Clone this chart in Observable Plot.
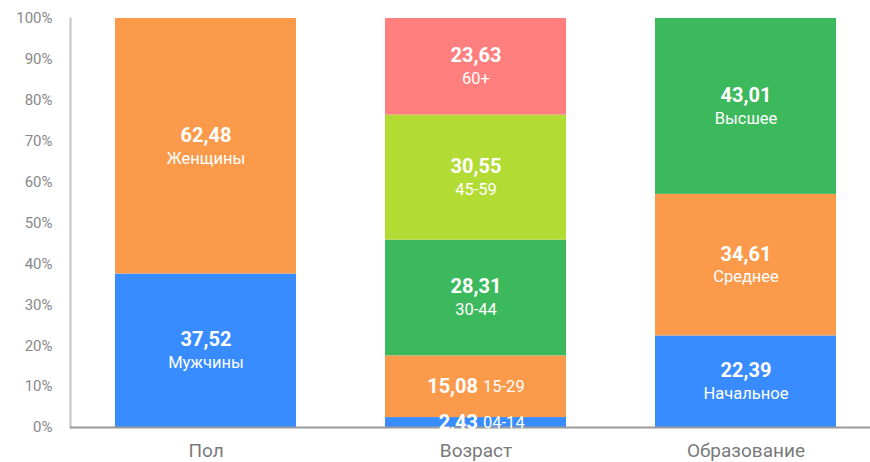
<!DOCTYPE html>
<html>
<head>
<meta charset="utf-8">
<script src="https://cdn.jsdelivr.net/npm/d3@7"></script>
<script src="https://cdn.jsdelivr.net/npm/@observablehq/plot@0.6"></script>
<style>
  html, body { margin: 0; padding: 0; background: #fff; }
  svg { font-family: Roboto, "Noto Sans", sans-serif; }
</style>
</head>
<body>
<div id="chart"></div>
<script>
const groups = ["Пол", "Возраст", "Образование"];
const segGroup = ["Пол", "Пол", "Возраст", "Возраст", "Возраст", "Возраст", "Возраст", "Образование", "Образование", "Образование"];
const segName = ["Мужчины", "Женщины", "04-14", "15-29", "30-44", "45-59", "60+", "Начальное", "Среднее", "Высшее"];
const segValue = [37.52, 62.48, 2.43, 15.08, 28.31, 30.55, 23.63, 22.39, 34.61, 43.01];
const segColor = ["#388cff", "#fb9a4a", "#388cff", "#fb9a4a", "#3cb95c", "#b2db34", "#ff7e7e", "#388cff", "#fb9a4a", "#3cb95c"];
const yTicks = [0, 10, 20, 30, 40, 50, 60, 70, 80, 90, 100];

const fmt = v => d3.format(".2f")(v).replace(".", ",");

const cum = {};
const data = segName.map((name, i) => {
  const g = segGroup[i];
  const y1 = cum[g] || 0;
  const y2 = y1 + segValue[i];
  cum[g] = y2;
  return { group: g, name, value: segValue[i], color: segColor[i], y1, y2, mid: (y1 + y2) / 2, inline: segValue[i] < 20 && g === "Возраст" };
});
const stacked = data.filter(d => !d.inline);
const inline = data.filter(d => d.inline);

const chart = Plot.plot({
  width: 870,
  height: 462,
  marginLeft: 70,
  marginRight: 0,
  marginTop: 18,
  marginBottom: 35,
  style: { fontFamily: "Roboto, 'Noto Sans', sans-serif" },
  x: { domain: groups, range: [70, 881], paddingInner: 0.33, paddingOuter: 0.165, label: null },
  y: { domain: [0, 100], label: null },
  marks: [
    Plot.barY(data, { x: "group", y1: "y1", y2: "y2", fill: "color" }),
    Plot.frame({ anchor: "left", stroke: "#c4c4c4", strokeWidth: 2 }),
    Plot.ruleY([0], { stroke: "#9a9a9a", strokeWidth: 2 }),
    Plot.axisY({ ticks: yTicks, tickFormat: d => d + "%", tickSize: 0, tickPadding: 18, fontSize: 15, fill: "#888", label: null }),
    Plot.axisX({ tickSize: 0, tickPadding: 16, fontSize: 19, fill: "#7a7a7a", label: null }),
    Plot.text(stacked, { x: "group", y: "mid", text: d => fmt(d.value), dy: -11, fill: "white", fontSize: 20, fontWeight: "bold" }),
    Plot.text(stacked, { x: "group", y: "mid", text: "name", dy: 12, fill: "white", fontSize: 16.5 }),
    Plot.text(inline, { x: "group", y: "mid", text: d => fmt(d.value), dx: 2, textAnchor: "end", fill: "white", fontSize: 20, fontWeight: "bold" }),
    Plot.text(inline, { x: "group", y: "mid", text: "name", dx: 7, textAnchor: "start", fill: "white", fontSize: 16.5 })
  ]
});
document.getElementById("chart").appendChild(chart);
</script>
</body>
</html>
